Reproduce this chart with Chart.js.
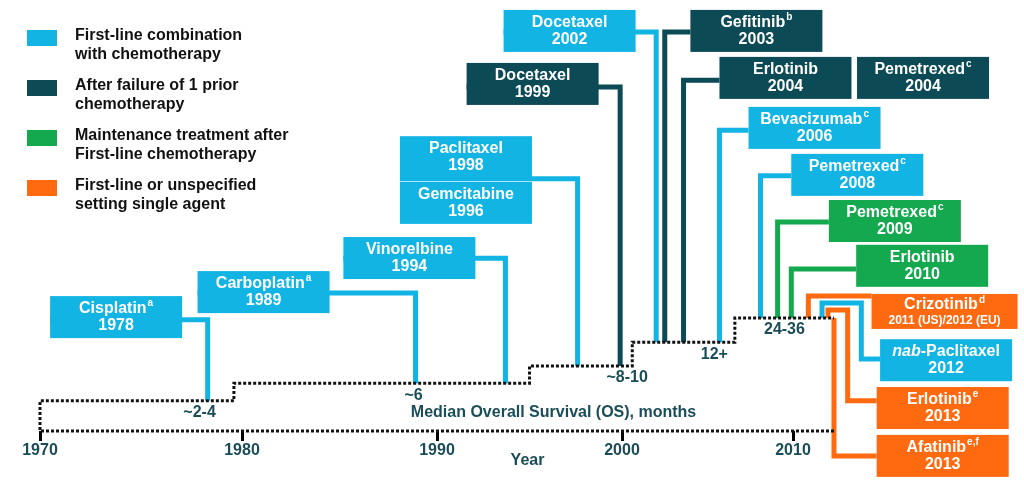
<!DOCTYPE html>
<html>
<head>
<meta charset="utf-8">
<script src="https://cdn.jsdelivr.net/npm/chart.js@4"></script>
<style>
  html, body { margin: 0; padding: 0; background: #fff; }
</style>
</head>
<body>
<canvas id="timeline" width="1024" height="480"></canvas>
<script>
// Approvals (name, footnote, year label, treatment setting)
const drugNames = ['Cisplatin', 'Carboplatin', 'Vinorelbine', 'Gemcitabine', 'Paclitaxel', 'Docetaxel', 'Docetaxel', 'Gefitinib', 'Erlotinib', 'Pemetrexed', 'Bevacizumab', 'Pemetrexed', 'Pemetrexed', 'Erlotinib', 'Crizotinib', 'nab-Paclitaxel', 'Erlotinib', 'Afatinib'];
const drugNotes = ['a', 'a', '', '', '', '', '', 'b', '', 'c', 'c', 'c', 'c', '', 'd', '', 'e', 'e,f'];
const drugYears = ['1978', '1989', '1994', '1996', '1998', '1999', '2002', '2003', '2004', '2004', '2006', '2008', '2009', '2010', '2011 (US)/2012 (EU)', '2012', '2013', '2013'];
const drugSetting = [0, 0, 0, 0, 0, 1, 0, 1, 1, 1, 0, 0, 2, 2, 3, 0, 3, 3];
const settingLabels = [
    ['First-line combination', 'with chemotherapy'],
    ['After failure of 1 prior', 'chemotherapy'],
    ['Maintenance treatment after', 'First-line chemotherapy'],
    ['First-line or unspecified', 'setting single agent']
];

// Median OS steps (months) and the years where each step starts
const osLabels = ['~2-4', '~6', '~8-10', '12+', '24-36'];
const osStartYears = [1970, 1979.6, 1995, 2000.6, 2006.6];
const osEndYear = 2012.4;
const axisYears = [1970, 1980, 1990, 2000, 2010];

// Layout on the hidden y axis (0 = year axis, 100 = top)
const osLevels = [7.0, 11.1, 15.1, 20.6, 26.2];
const osLabelYears = [1977.9, 1988.8, 2000.3, 2005.4, 2009.5];
const boxYears = [1970.5, 1977.8, 1985.2, 1988.1, 1988.1, 1991.6, 1993.6, 2004.0, 2005.7, 2013.75, 2007.4, 2009.9, 2012.1, 2013.7, 2014.6, 2015.1, 2014.9, 2014.9];
const boxTops = [31.3, 37.1, 45.0, 57.8, 68.4, 85.4, 97.7, 97.7, 86.8, 86.8, 75.2, 64.3, 53.6, 43.2, 31.8, 21.3, 10.2, -0.9];
// connectors: arm from the box, turn, optional jog, then down/up to the OS step
const armLevels = [25.8, 32.0, 40.1, null, 58.5, 79.8, 92.6, 92.6, 81.4, null, 69.8, 59.2, 48.5, 37.6, 31.3, 16.7, 7.0, -5.8];
const turnYears = [1978.3, 1988.9, 1993.7, null, 1997.6, 1999.9, 2002.0, 2002.5, 2003.6, null, 2005.7, 2008.1, 2009.1, 2009.9, 2010.9, 2014.0, 2013.2, 2012.4];
const jogLevels = [25.8, 32.0, 40.1, null, 58.5, 79.8, 92.6, 92.6, 81.4, null, 69.8, 59.2, 48.5, 37.6, 31.3, 29.7, 28.1, -5.8];
const landYears = [1978.3, 1988.9, 1993.7, null, 1997.6, 1999.9, 2002.0, 2002.5, 2003.6, null, 2005.7, 2008.1, 2009.1, 2009.9, 2010.9, 2011.7, 2012.05, 2012.4];
const landSteps = [0, 1, 1, null, 2, 2, 3, 3, 3, null, 3, 4, 4, 4, 4, 4, 4, 4];

const settingColors = ['#12b4e4', '#0c4a55', '#14a94e', '#ff6a10'];
const textColor = '#1b4d59';
const FONT = '"Liberation Sans", Arial, sans-serif';

// decades are not evenly spaced on the original axis
const scaleKnots = [1970, 1980, 1990, 2000, 2010, 2023];
const scaleSpans = [202, 195, 185, 171, 222];

class StretchScale extends Chart.LinearScale {
    getPixelForValue(value) {
        const total = scaleSpans.reduce((a, b) => a + b, 0);
        let i = 0;
        while (i < scaleSpans.length - 1 && value > scaleKnots[i + 1]) i++;
        let acc = 0;
        for (let k = 0; k < i; k++) acc += scaleSpans[k];
        acc += scaleSpans[i] * (value - scaleKnots[i]) / (scaleKnots[i + 1] - scaleKnots[i]);
        return this.getPixelForDecimal(acc / total);
    }
    getValueForPixel(pixel) {
        const total = scaleSpans.reduce((a, b) => a + b, 0);
        let pos = this.getDecimalForPixel(pixel) * total;
        let i = 0;
        while (i < scaleSpans.length - 1 && pos > scaleSpans[i]) { pos -= scaleSpans[i]; i++; }
        return scaleKnots[i] + pos / scaleSpans[i] * (scaleKnots[i + 1] - scaleKnots[i]);
    }
}
StretchScale.id = 'stretch';
StretchScale.defaults = Chart.LinearScale.defaults;
Chart.register(StretchScale);

// Build datasets
const stepPoints = [{ x: osEndYear, y: 0 }, { x: osStartYears[0], y: 0 }];
osStartYears.forEach((yr, k) => {
    if (k > 0) stepPoints.push({ x: yr, y: osLevels[k - 1] });
    stepPoints.push({ x: yr, y: osLevels[k] });
});
stepPoints.push({ x: osEndYear, y: osLevels[osLevels.length - 1] });

const datasets = [{
    label: 'Median OS',
    data: stepPoints,
    showLine: true,
    borderColor: '#111',
    borderWidth: 3,
    borderDash: [3, 2],
    pointRadius: 0,
    clip: false
}];

drugNames.forEach((name, i) => {
    if (turnYears[i] === null) return;
    const raw = [
        { x: boxYears[i], y: armLevels[i] },
        { x: turnYears[i], y: armLevels[i] },
        { x: turnYears[i], y: jogLevels[i] },
        { x: landYears[i], y: jogLevels[i] },
        { x: landYears[i], y: osLevels[landSteps[i]] }
    ];
    const pts = raw.filter((p, k) => k === 0 || p.x !== raw[k - 1].x || p.y !== raw[k - 1].y);
    datasets.push({
        label: name + ' ' + drugYears[i],
        data: pts,
        showLine: true,
        borderColor: settingColors[drugSetting[i]],
        borderWidth: 5,
        borderJoinStyle: 'miter',
        borderCapStyle: 'butt',
        pointRadius: 0,
        clip: false
    });
});

function drawBoxText(ctx, i, cx, top, tall) {
    const name = drugNames[i];
    const italic = name.startsWith('nab-') ? 'nab' : '';
    const rest = name.slice(italic.length);
    const note = drugNotes[i];
    ctx.textBaseline = 'middle';
    ctx.textAlign = 'left';
    ctx.fillStyle = '#fff';
    ctx.font = 'italic bold 16px ' + FONT;
    const wi = italic ? ctx.measureText(italic).width : 0;
    ctx.font = 'bold 16px ' + FONT;
    const wr = ctx.measureText(rest).width;
    ctx.font = 'bold 10px ' + FONT;
    const wn = note ? ctx.measureText(note).width + 1 : 0;
    let x = cx - (wi + wr + wn) / 2;
    const y1 = top + (tall ? 11 : 12.5);
    if (italic) {
        ctx.font = 'italic bold 16px ' + FONT;
        ctx.fillText(italic, x, y1);
        x += wi;
    }
    ctx.font = 'bold 16px ' + FONT;
    ctx.fillText(rest, x, y1);
    x += wr;
    if (note) {
        ctx.font = 'bold 10px ' + FONT;
        ctx.fillText(note, x + 1, y1 - 5);
    }
    ctx.textAlign = 'center';
    ctx.font = (tall ? 'bold 12px ' : 'bold 16px ') + FONT;
    ctx.fillText(drugYears[i], cx, top + (tall ? 26.5 : 29.5));
}

const timelinePlugin = {
    id: 'timeline',
    afterDatasetsDraw(chart) {
        const ctx = chart.ctx;
        const xs = chart.scales.x, ys = chart.scales.y;
        ctx.save();
        // drug boxes
        drugNames.forEach((name, i) => {
            const tall = drugYears[i].length > 4;
            const w = tall ? 146 : 132, h = tall ? 35 : 42;
            const left = xs.getPixelForValue(boxYears[i]);
            const top = ys.getPixelForValue(boxTops[i]);
            ctx.fillStyle = settingColors[drugSetting[i]];
            ctx.fillRect(left, top, w, h);
            drawBoxText(ctx, i, left + w / 2, top, tall);
        });
        // OS step labels
        ctx.fillStyle = textColor;
        ctx.font = 'bold 16px ' + FONT;
        ctx.textAlign = 'center';
        ctx.textBaseline = 'middle';
        osLabels.forEach((lbl, k) => {
            ctx.fillText(lbl, xs.getPixelForValue(osLabelYears[k]), ys.getPixelForValue(osLevels[k]) + 12);
        });
        ctx.fillText('Median Overall Survival (OS), months', xs.getPixelForValue(1996.3), ys.getPixelForValue(4.2));
        // legend
        settingLabels.forEach((lines, k) => {
            const cy = 36 + k * 50;
            ctx.fillStyle = settingColors[k];
            ctx.fillRect(27, cy - 6, 30, 16);
            ctx.fillStyle = '#111';
            ctx.textAlign = 'left';
            ctx.fillText(lines[0], 75, cy);
            ctx.fillText(lines[1], 75, cy + 18.5);
        });
        ctx.restore();
    }
};

new Chart(document.getElementById('timeline'), {
    type: 'scatter',
    data: { datasets: datasets },
    plugins: [timelinePlugin],
    options: {
        responsive: false,
        animation: false,
        events: [],
        layout: { padding: { left: 40, right: 9, top: 0, bottom: 0 } },
        plugins: {
            legend: { display: false },
            tooltip: { enabled: false }
        },
        scales: {
            x: {
                type: 'stretch',
                min: 1970,
                max: 2023,
                afterBuildTicks: function(scale) {
                    scale.ticks = axisYears.map(v => ({ value: v }));
                },
                afterFit: function(scale) {
                    scale.height = 49;
                },
                border: { display: false },
                grid: {
                    drawOnChartArea: false,
                    drawTicks: true,
                    tickLength: 10,
                    tickWidth: 3,
                    tickColor: '#000'
                },
                ticks: {
                    padding: 0,
                    color: textColor,
                    font: { family: FONT, size: 16, weight: 'bold' },
                    maxRotation: 0,
                    callback: function(value) { return String(value); }
                },
                title: {
                    display: true,
                    text: 'Year',
                    color: textColor,
                    font: { family: FONT, size: 16, weight: 'bold' },
                    padding: { top: 0, bottom: 10 }
                }
            },
            y: {
                type: 'linear',
                display: false,
                min: 0,
                max: 100
            }
        }
    }
});
</script>
</body>
</html>
